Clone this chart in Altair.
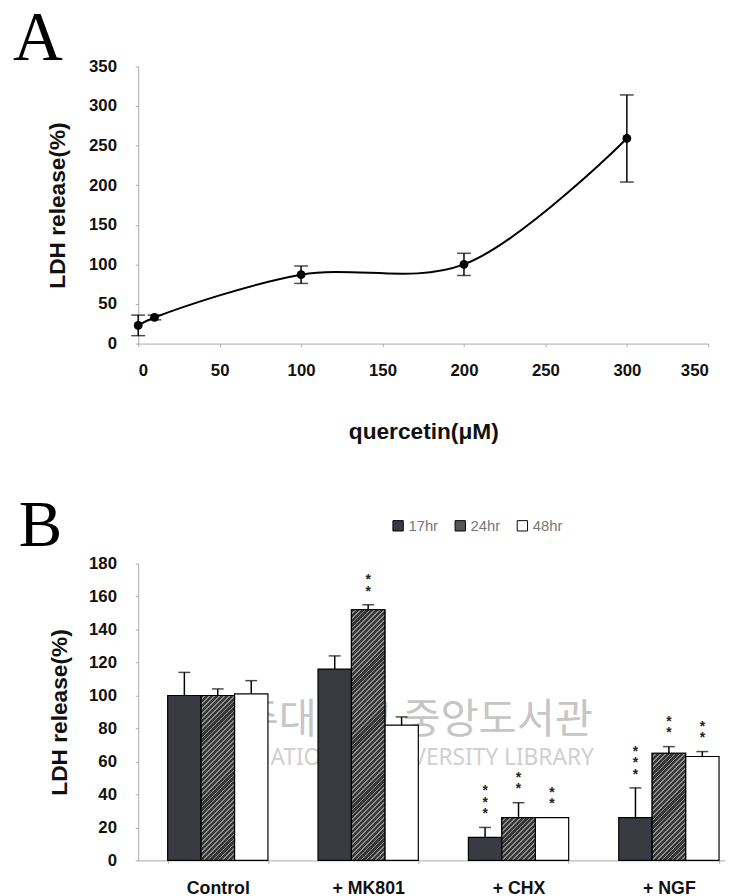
import math
import altair as alt
import pandas as pd

# ---- Panel A data ----
conc = [0, 10, 100, 200, 300]
ldh = [23, 33, 87, 100, 259]
ldh_err = [13, 3, 11, 14, 55]

# ---- Panel B data ----
groups = ["Control", "+ MK801", "+ CHX", "+ NGF"]
times = ["17hr", "24hr", "48hr"]
v17 = [100, 116, 14, 26]
v24 = [100, 152, 26, 65]
v48 = [101, 82, 26, 63]
e17 = [14, 8, 6, 18]
e24 = [4, 3, 9, 4]
e48 = [8, 5, 0, 3]
n17 = [0, 0, 3, 3]   # number of significance asterisks
n24 = [0, 2, 2, 2]
n48 = [0, 0, 2, 2]

FONT = "Liberation Sans"
SERIF = "Liberation Serif"

A_W, A_H = 578, 281
B_W, B_H = 595, 301
B_MAX = 180

df_a = pd.DataFrame({"conc": conc, "ldh": ldh, "err": ldh_err})
df_a["lo"] = df_a["ldh"] - df_a["err"]
df_a["hi"] = df_a["ldh"] + df_a["err"]

rows, star_rows = [], []
for t, vals, errs, ns in [("17hr", v17, e17, n17), ("24hr", v24, e24, n24), ("48hr", v48, e48, n48)]:
    for g, v, e, n in zip(groups, vals, errs, ns):
        rows.append({"group": g, "time": t, "value": v, "err": e, "hi": v + e})
        for k in range(n):
            star_rows.append({"group": g, "time": t, "hi": v + e, "k": k, "s": "*"})
df_b = pd.DataFrame(rows)
df_s = pd.DataFrame(star_rows)

# ---------------- Panel A ----------------
xa = alt.X("conc:Q", scale=alt.Scale(domain=[0, 350], nice=False),
           axis=alt.Axis(values=list(range(0, 351, 50)), title="quercetin(μM)",
                         tickSize=3, labelPadding=16, titlePadding=43, labelFontSize=17))
ya_axis = alt.Axis(values=list(range(0, 351, 50)), title="LDH release(%)",
                   tickSize=3, labelPadding=19, titlePadding=19, labelFontSize=17,
                   labelOverlap=False)
ya_scale = alt.Scale(domain=[0, 350], nice=False)


def ya(field):
    return alt.Y(field, scale=ya_scale, axis=ya_axis)


base_a = alt.Chart(df_a)
line_a = base_a.mark_line(interpolate="catmull-rom", color="black", strokeWidth=2).encode(x=xa, y=ya("ldh:Q"))
pts_a = base_a.mark_point(filled=True, color="black", size=80, opacity=1).encode(x=xa, y=ya("ldh:Q"))
err_a = base_a.mark_rule(color="black", strokeWidth=1.5).encode(x=xa, y=ya("lo:Q"), y2="hi:Q")
cap_lo = base_a.mark_tick(color="black", orient="horizontal", size=14, thickness=1.5).encode(x=xa, y=ya("lo:Q"))
cap_hi = base_a.mark_tick(color="black", orient="horizontal", size=14, thickness=1.5).encode(x=xa, y=ya("hi:Q"))
letter_a = alt.Chart(pd.DataFrame({"t": ["A"]})).mark_text(
    font=SERIF, fontSize=70, align="left", baseline="alphabetic", color="black"
).encode(x=alt.value(-127), y=alt.value(-7), text="t:N")

chart_a = alt.layer(err_a, cap_lo, cap_hi, line_a, pts_a, letter_a).properties(width=A_W, height=A_H)

# ---------------- Panel B ----------------
P_IN, P_OUT = 0.333, 0.118
xb = alt.X("group:N", sort=groups,
           scale=alt.Scale(paddingInner=P_IN, paddingOuter=P_OUT, align=0.83),
           axis=alt.Axis(title=None, labelAngle=0, tickBand="extent", tickSize=3,
                         labelPadding=17, labelFontSize=18))
xo = alt.XOffset("time:N", sort=times, scale=alt.Scale(paddingInner=0, paddingOuter=0))
yb_axis = alt.Axis(values=list(range(0, 181, 20)), title="LDH release(%)",
                   tickSize=3, labelPadding=19, titlePadding=17, labelFontSize=17,
                   labelOverlap=False)
yb_scale = alt.Scale(domain=[0, B_MAX], nice=False)


def yb(field):
    return alt.Y(field, scale=yb_scale, axis=yb_axis)


base_b = alt.Chart(df_b)
bars = base_b.mark_bar(stroke="black", strokeWidth=1.2).encode(
    x=xb, xOffset=xo, y=yb("value:Q"),
    color=alt.Color("time:N", sort=times,
                    scale=alt.Scale(domain=times, range=["#3a3a42", "#555555", "#ffffff"]),
                    legend=alt.Legend(title=None, orient="none", direction="horizontal",
                                      legendX=256, legendY=458, symbolType="square",
                                      symbolSize=110, symbolStrokeColor="black",
                                      symbolStrokeWidth=1, labelFontSize=15,
                                      labelColor="#777777", labelFontWeight="normal",
                                      columnPadding=14, labelOffset=3)))

# diagonal hatching of the 24hr bars, drawn as striped linear-gradient fills
step_px = B_W / (len(groups) - P_IN + 2 * P_OUT)
bar_w = step_px * (1 - P_IN) / 3
hatch_layers = []
for g, v in zip(groups, v24):
    h = v * B_H / B_MAX
    r = h / bar_w
    n = max(1, int(math.ceil(bar_w * (1 + r * r) / 5.0)))
    stops = []
    for i in range(n):
        a, m, b = i / n, (i + 0.64) / n, (i + 1) / n
        stops += [{"offset": a, "color": "#363636"}, {"offset": m, "color": "#363636"},
                  {"offset": m, "color": "#8e8e8e"}, {"offset": b, "color": "#8e8e8e"}]
    grad = {"gradient": "linear", "x1": 0, "y1": 0, "x2": 1, "y2": r, "stops": stops}
    hatch_layers.append(
        base_b.transform_filter(alt.datum.time == "24hr").transform_filter(alt.datum.group == g)
        .mark_bar(fill=grad, stroke="black", strokeWidth=1.2)
        .encode(x=xb, xOffset=xo, y=yb("value:Q"))
    )

err_b = base_b.transform_filter("datum.err > 0").mark_rule(color="black", strokeWidth=1.5).encode(
    x=xb, xOffset=xo, y=yb("value:Q"), y2="hi:Q")
cap_b = base_b.transform_filter("datum.err > 0").mark_tick(
    color="black", orient="horizontal", size=12, thickness=1.5).encode(x=xb, xOffset=xo, y=yb("hi:Q"))
stars_b = alt.Chart(df_s).transform_calculate(sy="datum.hi + 8 + 7 * datum.k").mark_text(
    font=FONT, fontSize=14, fontWeight="bold", baseline="middle", color="#222").encode(
    x=xb, xOffset=xo, y=yb("sy:Q"), text="s:N")

wm1 = alt.Chart(pd.DataFrame({"t": ["제주대학교 중앙도서관"]})).mark_text(
    font="Noto Sans CJK KR", fontSize=42, color="#c6c6c6", align="right", baseline="middle"
).encode(x=alt.value(461), y=alt.value(159), text="t:N")
wm2 = alt.Chart(pd.DataFrame({"t": ["JEJU NATIONAL UNIVERSITY  LIBRARY"]})).mark_text(
    font="Noto Sans", fontSize=23, color="#d0d0d0", align="right", baseline="middle"
).encode(x=alt.value(462), y=alt.value(197), text="t:N")
letter_b = alt.Chart(pd.DataFrame({"t": ["B"]})).mark_text(
    font=SERIF, fontSize=66, align="left", baseline="alphabetic", color="black"
).encode(x=alt.value(-121), y=alt.value(-18), text="t:N")

chart_b = alt.layer(wm1, wm2, bars, *hatch_layers, err_b, cap_b, stars_b, letter_b).properties(
    width=B_W, height=B_H)

chart = alt.vconcat(chart_a, chart_b, spacing=223, bounds="flush").properties(
    padding={"top": -10, "left": 5, "right": 5, "bottom": 5}
).configure_view(
    stroke=None
).configure_axis(
    labelFont=FONT, labelFontWeight="bold", labelColor="#111",
    titleFont=FONT, titleFontWeight="bold", titleFontSize=23, titleColor="#111",
    domainColor="#aaaaaa", tickColor="#aaaaaa", grid=False
).configure_legend(labelFont=FONT)

chart.save("out.html", embed_options={"renderer": "svg", "actions": False})
